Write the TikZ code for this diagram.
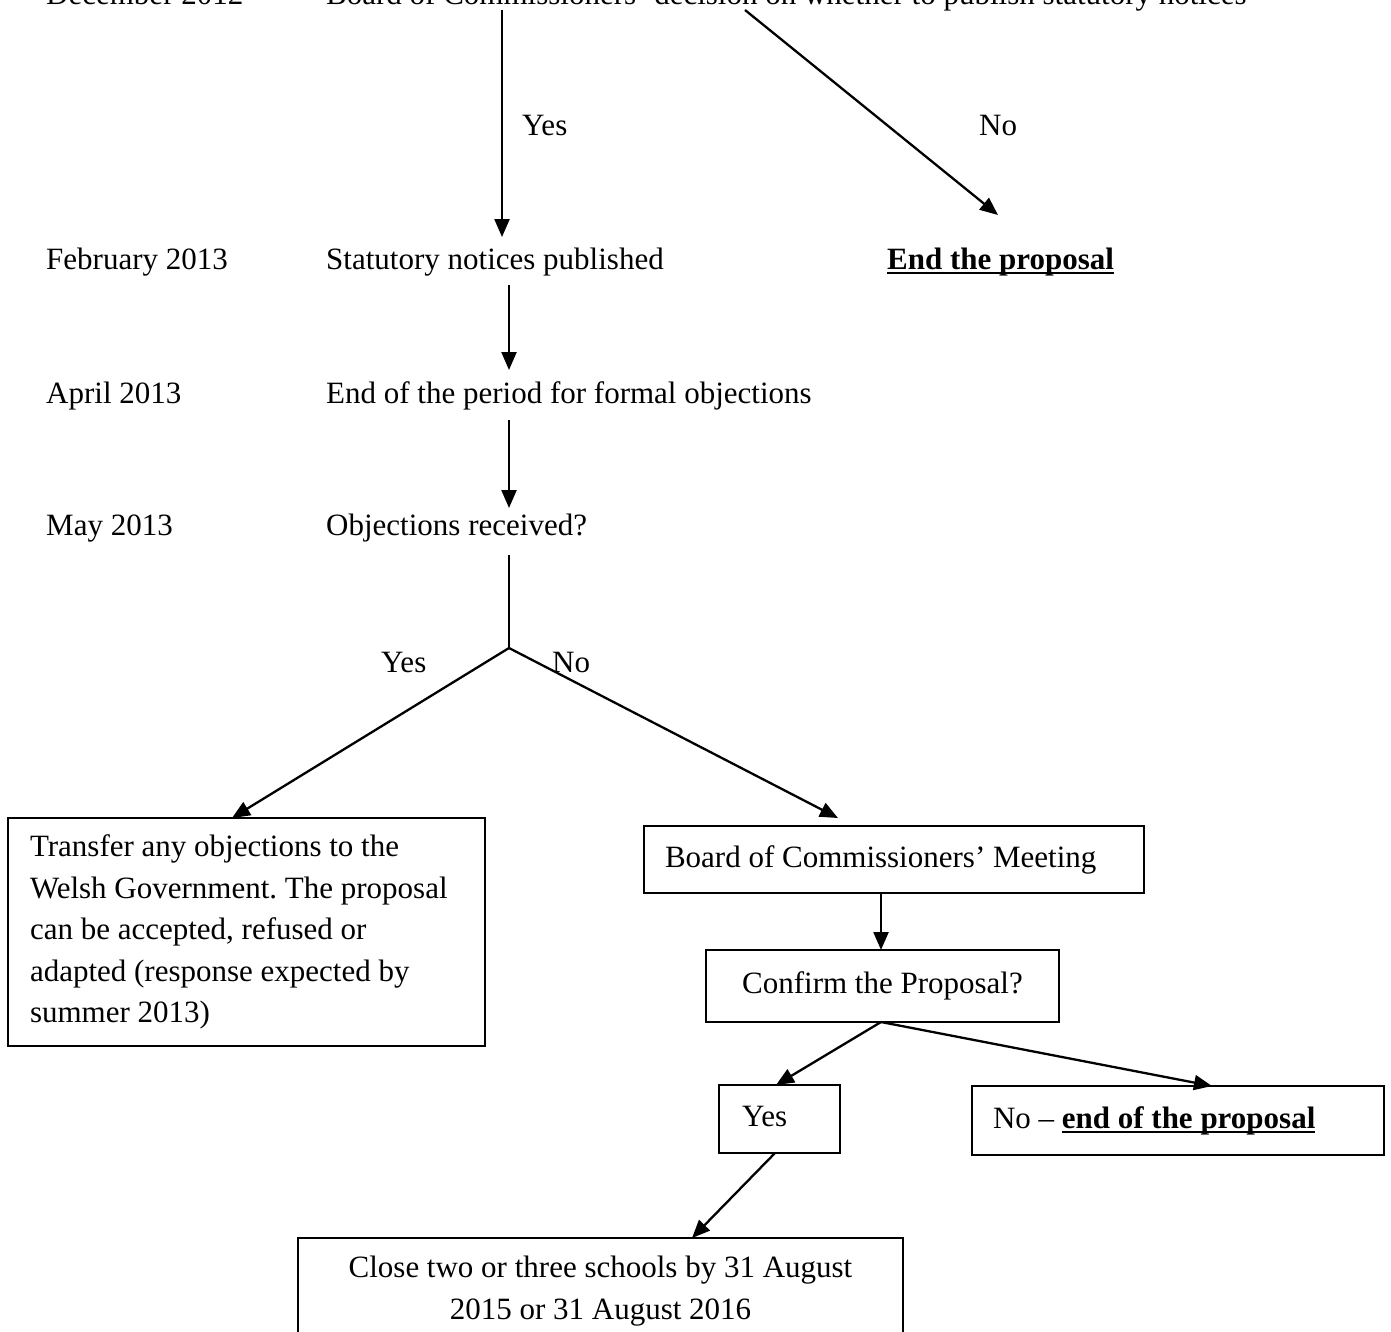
\documentclass[tikz,border=0pt]{standalone}
\usepackage{fontspec}
\setmainfont{Liberation Serif}
\usetikzlibrary{arrows.meta}
\newcommand\wul[1]{\setbox0\hbox{#1}\rlap{\rule[-0.17em]{\wd0}{0.075em}}\box0}
\frenchspacing
\begin{document}
\begin{tikzpicture}[x=1pt,y=-1pt,
  every node/.style={font=\fontsize{31}{41.5}\selectfont},
  txt/.style={anchor=base west, inner sep=0pt},
  arr/.style={line width=2.3pt, -{Triangle[length=18pt,width=15pt]}},
  ln/.style={line width=2.3pt},
  box/.style={draw, line width=2pt, inner sep=0pt},
  onebox/.style={box, text height=22pt, text depth=7pt}]
\useasboundingbox (0,0) rectangle (1391,1331);
\clip (0,0) rectangle (1391,1331);

% timeline texts
\node[txt] (dec) at (46,4) {December 2012};
\node[txt] (board0) at (326,4) {Board of Commissioners’ decision on whether to publish statutory notices};
\node[txt] (feb) at (46,269) {February 2013};
\node[txt] (stat) at (326,269) {Statutory notices published};
\node[txt] (endp) at (887,269) {\wul{\textbf{End the proposal}}};
\node[txt] (apr) at (46,403) {April 2013};
\node[txt] (period) at (326,403) {End of the period for formal objections};
\node[txt] (may) at (46,535) {May 2013};
\node[txt] (obj) at (326,535) {Objections received?};

% labels
\node[txt] (yes1) at (522,135) {Yes};
\node[txt] (no1) at (979,135) {No};
\node[txt] (yes2) at (381,672) {Yes};
\node[txt] (no2) at (552,672) {No};

% boxes
\node[box, minimum width=477pt, minimum height=228pt, text width=433pt, align=flush left] (transfer) at (246.5,932)
  {Transfer any objections to the\\ Welsh Government. The proposal\\ can be accepted, refused or\\ adapted (response expected by\\ summer 2013)};
\node[onebox, minimum width=500pt, minimum height=67pt, text width=458pt, align=flush left] (meet) at (894,859.5)
  {Board of Commissioners’ Meeting};
\node[onebox, minimum width=353pt, minimum height=72pt, text width=300pt, align=flush center] (confirm) at (882.5,986)
  {Confirm the Proposal?};
\node[onebox, minimum width=121pt, minimum height=68pt, text width=75pt, align=flush left] (yesb) at (779.5,1119)
  {Yes};
\node[onebox, minimum width=412pt, minimum height=69pt, text width=370pt, align=flush left] (nob) at (1178,1120.5)
  {No – \wul{\textbf{end of the proposal}}};
\node[box, minimum width=605pt, minimum height=106pt, text width=560pt, align=flush center] (close) at (600.5,1291)
  {Close two or three schools by 31 August\\ 2015 or 31 August 2016};

% connector end points
\coordinate (a1s) at (502,10);
\coordinate (a1e) at (502,237);
\coordinate (a2s) at (745,10);
\coordinate (a2e) at (998,215);
\coordinate (a3s) at (509,285);
\coordinate (a3e) at (509,370);
\coordinate (a4s) at (509,420);
\coordinate (a4e) at (509,508);
\coordinate (a5s) at (509,555);
\coordinate (J) at (509,648);
\coordinate (t1) at (232,818);
\coordinate (t2) at (838,818);
\coordinate (m1) at (881,893);
\coordinate (m2) at (881,950);
\coordinate (c1) at (881,1022);
\coordinate (y1) at (776,1085);
\coordinate (n1) at (1212,1086);
\coordinate (ys) at (775,1153);
\coordinate (cl) at (692,1238);

\draw[arr] (a1s) -- (a1e);
\draw[arr] (a2s) -- (a2e);
\draw[arr] (a3s) -- (a3e);
\draw[arr] (a4s) -- (a4e);
\draw[ln] (a5s) -- (J);
\draw[arr] (J) -- (t1);
\draw[arr] (J) -- (t2);
\draw[arr] (m1) -- (m2);
\draw[arr] (c1) -- (y1);
\draw[arr] (c1) -- (n1);
\draw[arr] (ys) -- (cl);
\end{tikzpicture}
\end{document}
